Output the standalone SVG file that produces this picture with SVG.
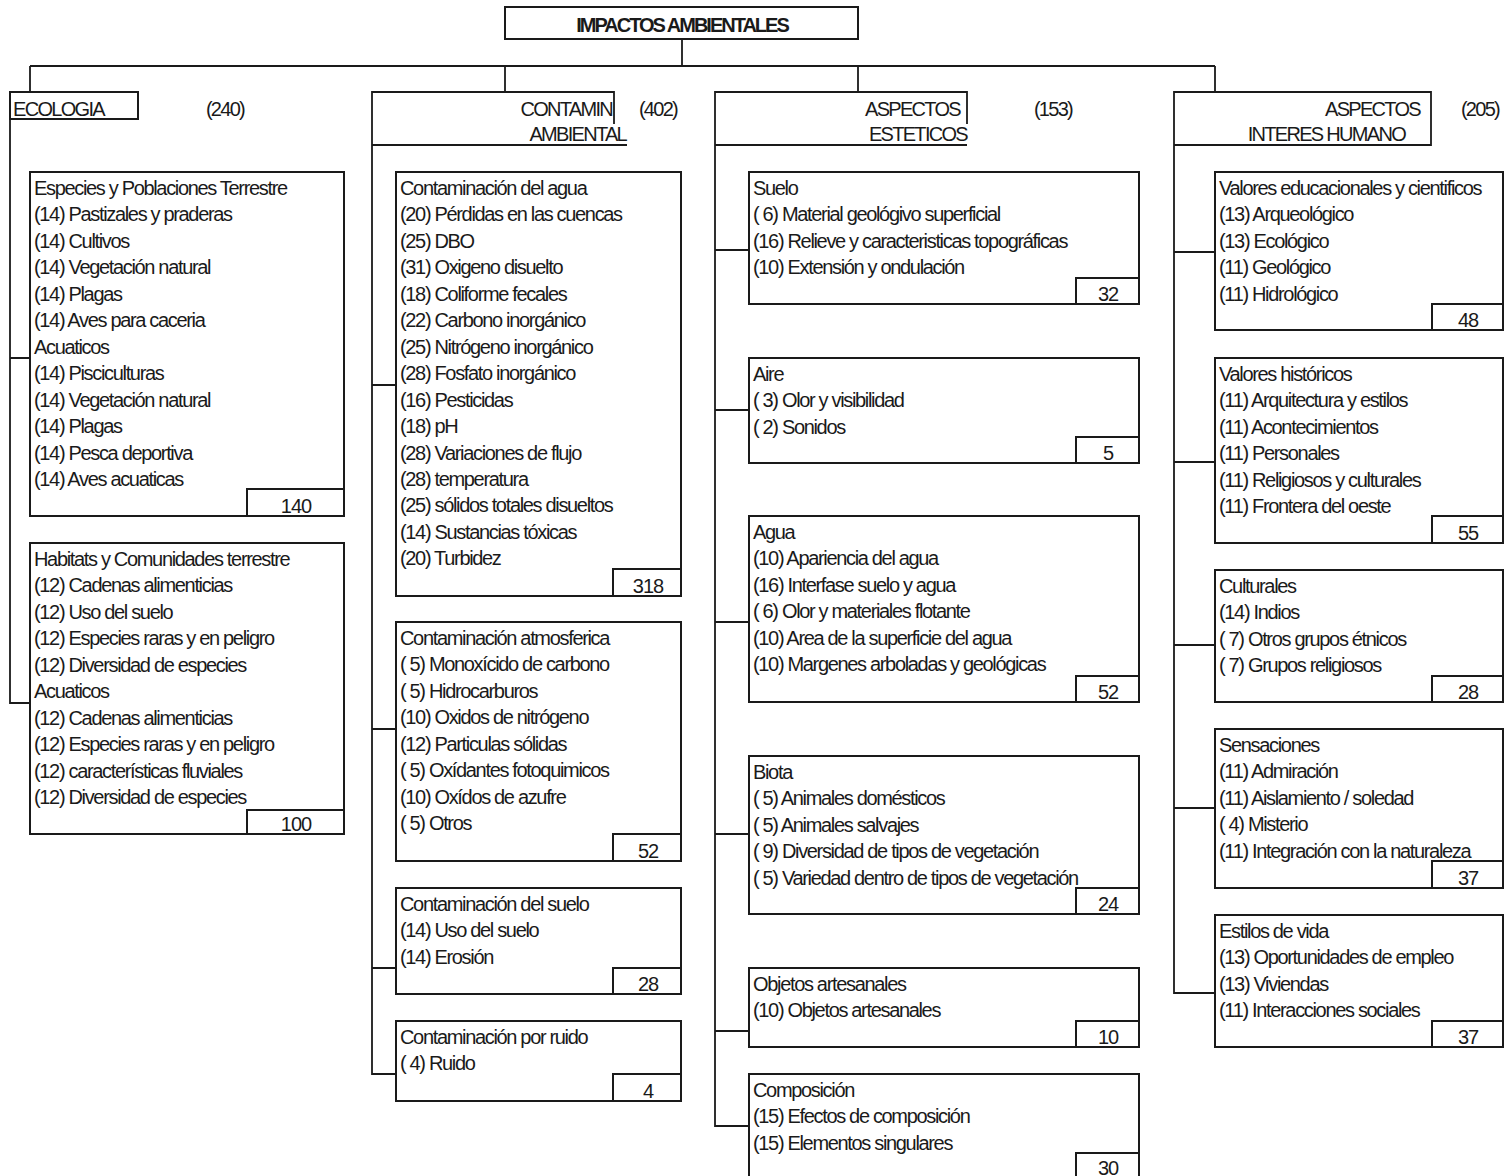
<svg xmlns="http://www.w3.org/2000/svg" width="1505" height="1176" viewBox="0 0 1505 1176">
<style>
  .bx { fill: #fff; stroke: #1a1a1a; stroke-width: 2; }
  .ln { fill: none; stroke: #1a1a1a; stroke-width: 1.8; }
  .t { font-family: "Liberation Sans", Arial, sans-serif; font-size: 20px; letter-spacing: -1.33px; fill: #1a1a1a; }
  .h { font-family: "Liberation Sans", Arial, sans-serif; font-size: 20px; letter-spacing: -1.7px; fill: #1a1a1a; }
  .n { font-family: "Liberation Sans", Arial, sans-serif; font-size: 20px; letter-spacing: -1px; fill: #1a1a1a; text-anchor: middle; }
  .ttl { font-family: "Liberation Sans", Arial, sans-serif; font-size: 20px; font-weight: bold; letter-spacing: -2px; fill: #1a1a1a; text-anchor: middle; }
</style>
<rect width="1505" height="1176" fill="#fff"/>

<!-- connectors: tree from the title down to the four branches and their boxes -->
<g id="connectors" class="ln">
  <path d="M682,39 V66 M30,66 H1215 M30,66 V92 M505,66 V92 M858,66 V92 M1215,66 V92"/>
  <!-- ecologia trunk -->
  <path d="M10,119 V703 H30 M10,358 H30"/>
  <!-- contaminacion trunk -->
  <path d="M372,145 V1074 H396 M372,385 H396 M372,729 H396 M372,968 H396"/>
  <!-- esteticos trunk -->
  <path d="M715,145 V1126 H749 M715,250 H749 M715,410 H749 M715,622 H749 M715,834 H749 M715,1031 H749"/>
  <!-- interes humano trunk -->
  <path d="M1174,145 V993 H1215 M1174,252 H1215 M1174,462 H1215 M1174,645 H1215 M1174,808 H1215"/>
</g>

<!-- title -->
<g id="impactos">
  <rect class="bx" x="505" y="7" width="353" height="32"/>
  <text class="ttl" x="682" y="32">IMPACTOS AMBIENTALES</text>
</g>

<!-- branch headers -->
<g id="hdr-ecologia">
  <rect class="bx" x="10" y="92" width="128" height="27"/>
  <text class="h" x="13" y="116">ECOLOGIA</text>
  <text class="h" x="225" y="116" text-anchor="middle">(240)</text>
</g>
<g id="hdr-contaminacion">
  <path class="ln" d="M372,145 V92 H614 V124 M372,145 H627"/>
  <text class="h" x="612" y="116" text-anchor="end">CONTAMIN</text>
  <text class="h" x="658" y="116" text-anchor="middle">(402)</text>
  <text class="h" x="626" y="141" text-anchor="end">AMBIENTAL</text>
</g>
<g id="hdr-esteticos">
  <path class="ln" d="M715,145 V92 H967 V124 M715,145 H967"/>
  <text class="h" x="960" y="116" text-anchor="end">ASPECTOS</text>
  <text class="h" x="1053" y="116" text-anchor="middle">(153)</text>
  <text class="h" x="967" y="141" text-anchor="end">ESTETICOS</text>
</g>
<g id="hdr-interes">
  <path class="ln" d="M1174,145 V92 H1431 V145 H1174"/>
  <text class="h" x="1420" y="116" text-anchor="end">ASPECTOS</text>
  <text class="h" x="1480" y="116" text-anchor="middle">(205)</text>
  <text class="h" x="1405" y="141" text-anchor="end">INTERES HUMANO</text>
</g>

<!-- ecologia boxes -->
<g id="eco-especies">
  <rect class="bx" x="30" y="172" width="314" height="344"/>
  <rect class="bx" x="247" y="489" width="97" height="27"/>
  <text class="n" x="296" y="512.5">140</text>
  <text class="t" y="195">
    <tspan x="34">Especies y Poblaciones Terrestre</tspan>
    <tspan x="34" dy="26.45">(14) Pastizales y praderas</tspan>
    <tspan x="34" dy="26.45">(14) Cultivos</tspan>
    <tspan x="34" dy="26.45">(14) Vegetación natural</tspan>
    <tspan x="34" dy="26.45">(14) Plagas</tspan>
    <tspan x="34" dy="26.45">(14) Aves para caceria</tspan>
    <tspan x="34" dy="26.45">Acuaticos</tspan>
    <tspan x="34" dy="26.45">(14) Pisciculturas</tspan>
    <tspan x="34" dy="26.45">(14) Vegetación natural</tspan>
    <tspan x="34" dy="26.45">(14) Plagas</tspan>
    <tspan x="34" dy="26.45">(14) Pesca deportiva</tspan>
    <tspan x="34" dy="26.45">(14) Aves acuaticas</tspan>
  </text>
</g>
<g id="eco-habitats">
  <rect class="bx" x="30" y="543" width="314" height="291"/>
  <rect class="bx" x="247" y="810" width="97" height="24"/>
  <text class="n" x="296" y="831">100</text>
  <text class="t" y="566">
    <tspan x="34">Habitats y Comunidades terrestre</tspan>
    <tspan x="34" dy="26.45">(12) Cadenas alimenticias</tspan>
    <tspan x="34" dy="26.45">(12) Uso del suelo</tspan>
    <tspan x="34" dy="26.45">(12) Especies raras y en peligro</tspan>
    <tspan x="34" dy="26.45">(12) Diversidad de especies</tspan>
    <tspan x="34" dy="26.45">Acuaticos</tspan>
    <tspan x="34" dy="26.45">(12) Cadenas alimenticias</tspan>
    <tspan x="34" dy="26.45">(12) Especies raras y en peligro</tspan>
    <tspan x="34" dy="26.45">(12) características fluviales</tspan>
    <tspan x="34" dy="26.45">(12) Diversidad de especies</tspan>
  </text>
</g>

<!-- contaminacion boxes -->
<g id="cont-agua">
  <rect class="bx" x="396" y="172" width="285" height="424"/>
  <rect class="bx" x="613" y="569" width="68" height="27"/>
  <text class="n" x="648" y="592.5">318</text>
  <text class="t" y="195">
    <tspan x="400">Contaminación del agua</tspan>
    <tspan x="400" dy="26.45">(20) Pérdidas en las cuencas</tspan>
    <tspan x="400" dy="26.45">(25) DBO</tspan>
    <tspan x="400" dy="26.45">(31) Oxigeno disuelto</tspan>
    <tspan x="400" dy="26.45">(18) Coliforme fecales</tspan>
    <tspan x="400" dy="26.45">(22) Carbono inorgánico</tspan>
    <tspan x="400" dy="26.45">(25) Nitrógeno inorgánico</tspan>
    <tspan x="400" dy="26.45">(28) Fosfato inorgánico</tspan>
    <tspan x="400" dy="26.45">(16) Pesticidas</tspan>
    <tspan x="400" dy="26.45">(18) pH</tspan>
    <tspan x="400" dy="26.45">(28) Variaciones de flujo</tspan>
    <tspan x="400" dy="26.45">(28) temperatura</tspan>
    <tspan x="400" dy="26.45">(25) sólidos totales disueltos</tspan>
    <tspan x="400" dy="26.45">(14) Sustancias tóxicas</tspan>
    <tspan x="400" dy="26.45">(20) Turbidez</tspan>
  </text>
</g>
<g id="cont-atmos">
  <rect class="bx" x="396" y="622" width="285" height="239"/>
  <rect class="bx" x="613" y="834" width="68" height="27"/>
  <text class="n" x="648" y="857.5">52</text>
  <text class="t" y="645">
    <tspan x="400">Contaminación atmosferica</tspan>
    <tspan x="400" dy="26.45">( 5) Monoxícido de carbono</tspan>
    <tspan x="400" dy="26.45">( 5) Hidrocarburos</tspan>
    <tspan x="400" dy="26.45">(10) Oxidos de nitrógeno</tspan>
    <tspan x="400" dy="26.45">(12) Particulas sólidas</tspan>
    <tspan x="400" dy="26.45">( 5) Oxídantes fotoquimicos</tspan>
    <tspan x="400" dy="26.45">(10) Oxídos de azufre</tspan>
    <tspan x="400" dy="26.45">( 5) Otros</tspan>
  </text>
</g>
<g id="cont-suelo">
  <rect class="bx" x="396" y="888" width="285" height="106"/>
  <rect class="bx" x="613" y="968" width="68" height="26"/>
  <text class="n" x="648" y="990.5">28</text>
  <text class="t" y="911">
    <tspan x="400">Contaminación del suelo</tspan>
    <tspan x="400" dy="26.45">(14) Uso del suelo</tspan>
    <tspan x="400" dy="26.45">(14) Erosión</tspan>
  </text>
</g>
<g id="cont-ruido">
  <rect class="bx" x="396" y="1021" width="285" height="80"/>
  <rect class="bx" x="613" y="1074" width="68" height="27"/>
  <text class="n" x="648" y="1097.5">4</text>
  <text class="t" y="1044">
    <tspan x="400">Contaminación por ruido</tspan>
    <tspan x="400" dy="26.45">( 4) Ruido</tspan>
  </text>
</g>

<!-- esteticos boxes -->
<g id="est-suelo">
  <rect class="bx" x="749" y="172" width="390" height="132"/>
  <rect class="bx" x="1076" y="278" width="63" height="26"/>
  <text class="n" x="1108" y="300.5">32</text>
  <text class="t" y="195">
    <tspan x="753">Suelo</tspan>
    <tspan x="753" dy="26.45">( 6) Material geológivo superficial</tspan>
    <tspan x="753" dy="26.45">(16) Relieve y caracteristicas topográficas</tspan>
    <tspan x="753" dy="26.45">(10) Extensión y ondulación</tspan>
  </text>
</g>
<g id="est-aire">
  <rect class="bx" x="749" y="358" width="390" height="105"/>
  <rect class="bx" x="1076" y="437" width="63" height="26"/>
  <text class="n" x="1108" y="459.5">5</text>
  <text class="t" y="381">
    <tspan x="753">Aire</tspan>
    <tspan x="753" dy="26.45">( 3) Olor y visibilidad</tspan>
    <tspan x="753" dy="26.45">( 2) Sonidos</tspan>
  </text>
</g>
<g id="est-agua">
  <rect class="bx" x="749" y="516" width="390" height="186"/>
  <rect class="bx" x="1076" y="676" width="63" height="26"/>
  <text class="n" x="1108" y="698.5">52</text>
  <text class="t" y="539">
    <tspan x="753">Agua</tspan>
    <tspan x="753" dy="26.45">(10) Apariencia del agua</tspan>
    <tspan x="753" dy="26.45">(16) Interfase suelo y agua</tspan>
    <tspan x="753" dy="26.45">( 6) Olor y materiales flotante</tspan>
    <tspan x="753" dy="26.45">(10) Area de la superficie del agua</tspan>
    <tspan x="753" dy="26.45">(10) Margenes arboladas y geológicas</tspan>
  </text>
</g>
<g id="est-biota">
  <rect class="bx" x="749" y="756" width="390" height="158"/>
  <rect class="bx" x="1076" y="888" width="63" height="26"/>
  <text class="n" x="1108" y="910.5">24</text>
  <text class="t" y="779">
    <tspan x="753">Biota</tspan>
    <tspan x="753" dy="26.45">( 5) Animales domésticos</tspan>
    <tspan x="753" dy="26.45">( 5) Animales salvajes</tspan>
    <tspan x="753" dy="26.45">( 9) Diversidad de tipos de vegetación</tspan>
    <tspan x="753" dy="26.45">( 5) Variedad dentro de tipos de vegetación</tspan>
  </text>
</g>
<g id="est-objetos">
  <rect class="bx" x="749" y="968" width="390" height="79"/>
  <rect class="bx" x="1076" y="1021" width="63" height="26"/>
  <text class="n" x="1108" y="1043.5">10</text>
  <text class="t" y="991">
    <tspan x="753">Objetos artesanales</tspan>
    <tspan x="753" dy="26.45">(10) Objetos artesanales</tspan>
  </text>
</g>
<g id="est-composicion">
  <rect class="bx" x="749" y="1074" width="390" height="110"/>
  <rect class="bx" x="1076" y="1153" width="63" height="31"/>
  <text class="n" x="1108" y="1175">30</text>
  <text class="t" y="1097">
    <tspan x="753">Composición</tspan>
    <tspan x="753" dy="26.45">(15) Efectos de composición</tspan>
    <tspan x="753" dy="26.45">(15) Elementos singulares</tspan>
  </text>
</g>

<!-- interes humano boxes -->
<g id="ih-educacionales">
  <rect class="bx" x="1215" y="172" width="288" height="158"/>
  <rect class="bx" x="1432" y="304" width="71" height="26"/>
  <text class="n" x="1468" y="326.5">48</text>
  <text class="t" y="195">
    <tspan x="1219">Valores educacionales y cientificos</tspan>
    <tspan x="1219" dy="26.45">(13) Arqueológico</tspan>
    <tspan x="1219" dy="26.45">(13) Ecológico</tspan>
    <tspan x="1219" dy="26.45">(11) Geológico</tspan>
    <tspan x="1219" dy="26.45">(11) Hidrológico</tspan>
  </text>
</g>
<g id="ih-historicos">
  <rect class="bx" x="1215" y="358" width="288" height="185"/>
  <rect class="bx" x="1432" y="516" width="71" height="27"/>
  <text class="n" x="1468" y="539.5">55</text>
  <text class="t" y="381">
    <tspan x="1219">Valores históricos</tspan>
    <tspan x="1219" dy="26.45">(11) Arquitectura y estilos</tspan>
    <tspan x="1219" dy="26.45">(11) Acontecimientos</tspan>
    <tspan x="1219" dy="26.45">(11) Personales</tspan>
    <tspan x="1219" dy="26.45">(11) Religiosos y culturales</tspan>
    <tspan x="1219" dy="26.45">(11) Frontera del oeste</tspan>
  </text>
</g>
<g id="ih-culturales">
  <rect class="bx" x="1215" y="570" width="288" height="132"/>
  <rect class="bx" x="1432" y="676" width="71" height="26"/>
  <text class="n" x="1468" y="698.5">28</text>
  <text class="t" y="593">
    <tspan x="1219">Culturales</tspan>
    <tspan x="1219" dy="26.45">(14) Indios</tspan>
    <tspan x="1219" dy="26.45">( 7) Otros grupos étnicos</tspan>
    <tspan x="1219" dy="26.45">( 7) Grupos religiosos</tspan>
  </text>
</g>
<g id="ih-sensaciones">
  <rect class="bx" x="1215" y="729" width="288" height="159"/>
  <rect class="bx" x="1432" y="861" width="71" height="27" fill="none"/>
  <text class="n" x="1468" y="884.5">37</text>
  <text class="t" y="752">
    <tspan x="1219">Sensaciones</tspan>
    <tspan x="1219" dy="26.45">(11) Admiración</tspan>
    <tspan x="1219" dy="26.45">(11) Aislamiento / soledad</tspan>
    <tspan x="1219" dy="26.45">( 4) Misterio</tspan>
    <tspan x="1219" dy="26.45">(11) Integración con la naturaleza</tspan>
  </text>
</g>
<g id="ih-estilos">
  <rect class="bx" x="1215" y="915" width="288" height="132"/>
  <rect class="bx" x="1432" y="1021" width="71" height="26"/>
  <text class="n" x="1468" y="1043.5">37</text>
  <text class="t" y="938">
    <tspan x="1219">Estilos de vida</tspan>
    <tspan x="1219" dy="26.45">(13) Oportunidades de empleo</tspan>
    <tspan x="1219" dy="26.45">(13) Viviendas</tspan>
    <tspan x="1219" dy="26.45">(11) Interacciones sociales</tspan>
  </text>
</g>
</svg>
